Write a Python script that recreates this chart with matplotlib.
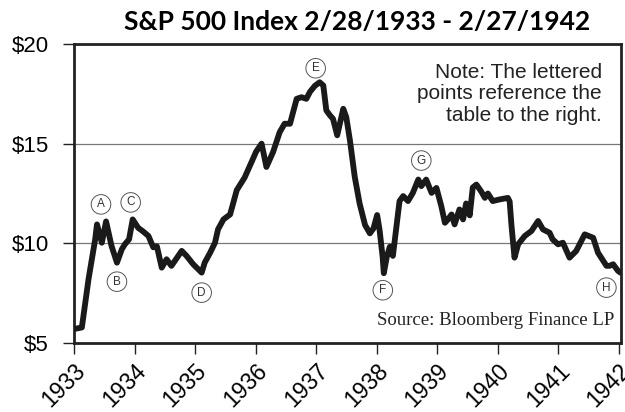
import numpy as np
import matplotlib.pyplot as plt

# S&P 500 index level (decimal years from 2/28/1933)
years = [1933.00, 1933.13, 1933.24, 1933.35, 1933.38, 1933.46, 1933.53, 1933.62,
         1933.71, 1933.79, 1933.84, 1933.91, 1933.97, 1934.06, 1934.14, 1934.23,
         1934.31, 1934.37, 1934.45, 1934.53, 1934.61, 1934.78, 1934.86, 1934.97,
         1935.11, 1935.16, 1935.25, 1935.33, 1935.38, 1935.47, 1935.58, 1935.69,
         1935.82, 1935.93, 1936.01, 1936.10, 1936.18, 1936.29, 1936.40, 1936.48,
         1936.57, 1936.68, 1936.76, 1936.84, 1936.90, 1936.98, 1937.06, 1937.12,
         1937.17, 1937.23, 1937.28, 1937.35, 1937.45, 1937.50, 1937.56, 1937.64,
         1937.72, 1937.81, 1937.89, 1937.95, 1938.01, 1938.05, 1938.10, 1938.12,
         1938.17, 1938.22, 1938.27, 1938.33, 1938.38, 1938.44, 1938.52, 1938.60,
         1938.69, 1938.74, 1938.82, 1938.91, 1938.99, 1939.07, 1939.13, 1939.18,
         1939.24, 1939.29, 1939.37, 1939.43, 1939.48, 1939.54, 1939.59, 1939.65,
         1939.73, 1939.79, 1939.84, 1939.92, 1940.03, 1940.17, 1940.20, 1940.23,
         1940.28, 1940.34, 1940.45, 1940.56, 1940.67, 1940.75, 1940.86, 1940.91,
         1941.00, 1941.08, 1941.19, 1941.30, 1941.44, 1941.58, 1941.66, 1941.80,
         1941.85, 1941.91, 1941.99, 1942.03]
prices = [5.70, 5.78, 8.20, 10.20, 10.95, 10.03, 11.10, 9.87,
          9.03, 9.70, 9.95, 10.20, 11.20, 10.78, 10.60, 10.37,
          9.80, 9.85, 8.78, 9.20, 8.87, 9.62, 9.37, 8.95,
          8.53, 9.03, 9.53, 10.03, 10.70, 11.20, 11.45, 12.67,
          13.30, 14.05, 14.60, 15.00, 13.83, 14.58, 15.58, 16.00,
          16.00, 17.25, 17.33, 17.25, 17.60, 17.90, 18.08, 17.92,
          16.67, 16.42, 16.25, 15.42, 16.75, 16.33, 15.17, 13.33,
          12.00, 10.92, 10.50, 10.75, 11.42, 10.67, 9.33, 8.50,
          9.33, 9.83, 9.37, 10.87, 12.12, 12.37, 12.12, 12.53,
          13.20, 12.87, 13.20, 12.53, 12.78, 11.87, 11.03, 11.20,
          11.45, 10.95, 11.70, 11.20, 12.00, 11.40, 12.80, 12.95,
          12.60, 12.28, 12.50, 12.12, 12.20, 12.28, 12.10, 10.90,
          9.28, 9.95, 10.37, 10.62, 11.12, 10.70, 10.53, 10.20,
          9.95, 10.03, 9.28, 9.62, 10.45, 10.28, 9.53, 8.87,
          8.87, 8.95, 8.62, 8.53]

tick_years = list(range(1933, 1943))
y_ticks = [5, 10, 15, 20]
y_labels = ['$5', '$10', '$15', '$20']

# lettered points: letter, date of the point, label offset in pixels
letters = ['A', 'B', 'C', 'D', 'E', 'F', 'G', 'H']
letter_years = [1933.38, 1933.71, 1933.97, 1935.11, 1937.06, 1938.12, 1938.69, 1942.03]
letter_offsets = [(4, 20), (0, -19), (-2, 17), (0, -20), (-4, 14), (-1, -17), (3, 19), (-14, -15)]

fig = plt.figure(figsize=(6.25, 4.12), dpi=100)
ax = fig.add_axes([0.1184, 0.1675, 0.8752, 0.7257])

ax.plot(years, prices, color='#1a1a1a', lw=4.2, solid_joinstyle='round',
        solid_capstyle='round', zorder=3)

for letter, yr, (dx, dy) in zip(letters, letter_years, letter_offsets):
    yv = np.interp(yr, years, prices)
    ax.annotate(letter, (yr, yv), xytext=(dx, dy), textcoords='offset pixels',
                ha='center', va='center', fontsize=8.5, family='Liberation Sans',
                color='#333333',
                bbox=dict(boxstyle='circle,pad=0.32', fc='white', ec='#555555', lw=0.7))

ax.set_xlim(1933, 1942.04)
ax.set_ylim(5, 20)
ax.set_yticks(y_ticks)
ax.set_yticklabels(y_labels, fontsize=16, family='Liberation Sans')
ax.set_xticks(tick_years)
ax.set_xticklabels([str(y) for y in tick_years], fontsize=16.5, family='Liberation Sans',
                   rotation=45, ha='right', va='top', rotation_mode='anchor')
ax.tick_params(axis='both', direction='out', length=8, width=1, color='#222222')
ax.tick_params(axis='y', pad=10)
ax.tick_params(axis='x', pad=4)

ax.grid(axis='y', color='#777777', lw=0.9)
for s in ax.spines.values():
    s.set_color('#222222')
    s.set_linewidth(2)

fig.text(357 / 625, 1 - 22 / 412, 'S&P 500 Index 2/28/1933 - 2/27/1942', fontsize=19,
         fontweight='bold', family='Lato', ha='center', va='center')

ax.text(0.965, 0.936, 'Note: The lettered\npoints reference the\ntable to the right.',
        transform=ax.transAxes, ha='right', va='top', fontsize=15,
        family='Liberation Sans', color='#222222', linespacing=1.15)
ax.text(0.988, 0.074, 'Source: Bloomberg Finance LP', transform=ax.transAxes,
        ha='right', va='center', fontsize=13.5, family='Liberation Serif', color='#222222')

plt.savefig('out.png', dpi=100, facecolor='white')
